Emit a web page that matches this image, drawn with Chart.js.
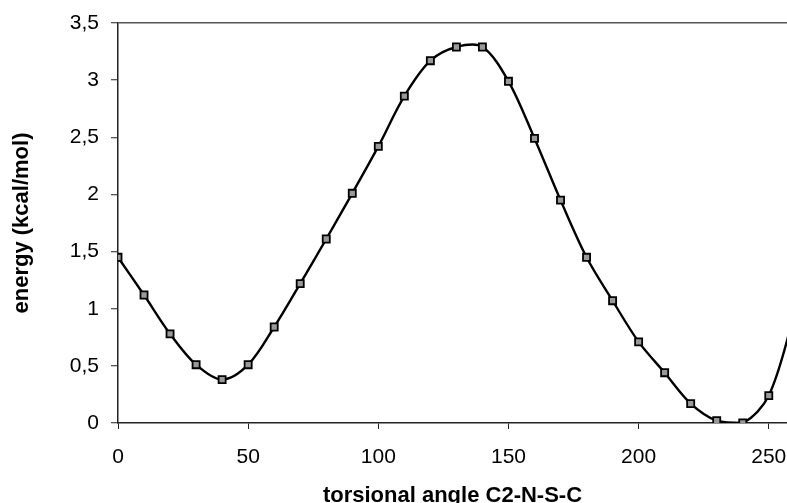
<!DOCTYPE html>
<html>
<head>
<meta charset="utf-8">
<script src="https://cdn.jsdelivr.net/npm/chart.js@4"></script>
<style>
  html, body { margin: 0; padding: 0; background: #fff; }
  #wrap { width: 787px; height: 503px; position: relative; }
</style>
</head>
<body>
<div id="wrap"><canvas id="c" width="787" height="503"></canvas></div>
<script>
const angles = [0,10,20,30,40,50,60,70,80,90,100,110,120,130,140,150,160,170,180,190,200,210,220,230,240,250,260];
const energies = [1.45,1.12,0.78,0.51,0.38,0.51,0.84,1.22,1.61,2.01,2.42,2.86,3.17,3.29,3.29,2.99,2.49,1.95,1.45,1.07,0.71,0.44,0.17,0.02,0.00,0.24,0.96];
const xTitle = 'torsional angle C2-N-S-C';
const yTitle = 'energy (kcal/mol)';
const xMin = 0, xMax = 257, xStep = 50;
const yMin = 0, yMax = 3.5, yStep = 0.5;

const points = angles.map((a, i) => ({ x: a, y: energies[i] }));
const fontFam = '"Liberation Sans", Arial, sans-serif';

new Chart(document.getElementById('c'), {
  type: 'line',
  data: {
    datasets: [{
      data: points,
      borderColor: '#000',
      borderWidth: 2.4,
      tension: 0.33,
      pointStyle: 'rect',
      pointRadius: 5,
      pointBorderWidth: 1.8,
      pointBorderColor: '#000',
      pointBackgroundColor: '#999',
      fill: false
    }]
  },
  options: {
    responsive: false,
    animation: false,
    events: [],
    layout: { autoPadding: false, padding: { top: 23, right: 0, left: 0, bottom: 0 } },
    plugins: { legend: { display: false }, tooltip: { enabled: false } },
    scales: {
      x: {
        type: 'linear',
        min: xMin, max: xMax,
        afterFit: s => { s.height = 80; s.paddingRight = 0; s.paddingLeft = 0; },
        border: { display: true, color: '#222', width: 1.5 },
        grid: { drawOnChartArea: false, drawTicks: true, tickLength: 6, tickColor: '#222', tickWidth: 1 },
        ticks: { stepSize: xStep, includeBounds: false, maxRotation: 0, padding: 16, color: '#000', font: { family: fontFam, size: 21 } },
        title: { display: true, text: xTitle, color: '#000', font: { family: fontFam, size: 22, weight: 'bold' }, padding: { top: 0, bottom: -6 } }
      },
      y: {
        min: yMin, max: yMax,
        afterFit: s => { s.width = 118; s.paddingTop = 0; s.paddingBottom = 0; },
        border: { display: true, color: '#222', width: 1.5 },
        grid: {
          drawOnChartArea: true,
          color: c => (c.tick && c.tick.value === yMax) ? '#555' : 'rgba(0,0,0,0)',
          lineWidth: 1.5,
          drawTicks: true, tickLength: 7, tickColor: '#222', tickWidth: 1
        },
        ticks: { stepSize: yStep, padding: 12, color: '#000', font: { family: fontFam, size: 21 },
          callback: v => String(v).replace('.', ',') },
        title: { display: true, text: yTitle, color: '#000', font: { family: fontFam, size: 22, weight: 'bold' }, padding: { top: 9, bottom: 0 } }
      }
    }
  }
});
</script>
</body>
</html>
